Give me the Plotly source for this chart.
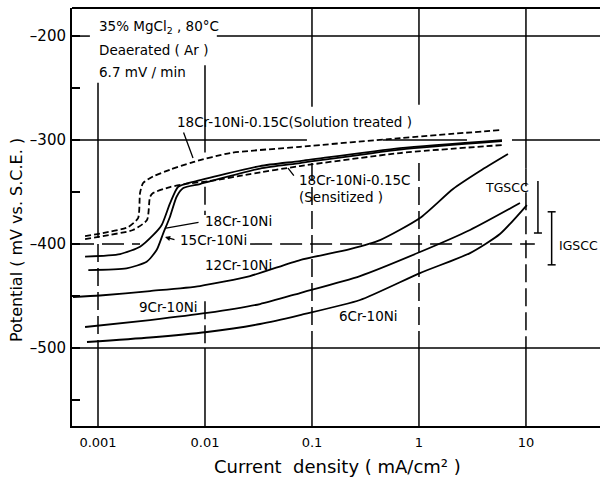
import plotly.graph_objects as go
import math

# ---------------- data (current density mA/cm^2, potential mV vs SCE) ----------------
sol_I = [0.000757, 0.00111, 0.00191, 0.00237, 0.00247, 0.00264, 0.00327, 0.00471, 0.00773, 0.01714, 0.0773, 0.664, 5.71]
sol_V = [-392.3, -389.4, -383.7, -375.0, -351.0, -341.3, -335.0, -328.5, -321.2, -312.5, -306.5, -298.1, -290.4]

sens_I = [0.000757, 0.00111, 0.00212, 0.00287, 0.00306, 0.00327, 0.00471, 0.0065, 0.01114, 0.02636, 0.0773, 0.664, 5.97]
sens_V = [-395.2, -392.3, -386.5, -376.9, -354.8, -351.0, -345.2, -342.3, -339.4, -332.7, -325.0, -312.5, -304.8]

cr18_I = [0.000757, 0.00161, 0.00247, 0.00329, 0.00394, 0.00471, 0.00562, 0.00778, 0.0327, 0.0773, 0.664, 5.97]
cr18_V = [-412.2, -409.6, -402.6, -391.3, -381.7, -360.9, -344.9, -340.1, -325.0, -320.2, -307.7, -300.0]

cr15_I = [0.000812, 0.00185, 0.00285, 0.00353, 0.00407, 0.00471, 0.00543, 0.00627, 0.00897, 0.0327, 0.0773, 0.664, 5.97]
cr15_V = [-425.0, -423.4, -417.0, -405.8, -389.7, -373.7, -354.5, -346.2, -342.3, -327.4, -322.1, -309.1, -301.0]

cr12_I = [0.000584, 0.001044, 0.00306, 0.00897, 0.02636, 0.0773, 0.2265, 0.4325, 1.021, 2.08, 3.715, 6.79]
cr12_V = [-451.0, -449.5, -445.2, -440.4, -430.8, -415.4, -404.8, -396.2, -375.0, -347.1, -329.8, -313.5]

cr9_I = [0.000757, 0.00306, 0.01045, 0.0327, 0.0773, 0.2812, 1.021, 3.0, 8.79]
cr9_V = [-479.8, -473.1, -466.3, -457.7, -447.1, -430.8, -407.7, -386.5, -360.6]

cr6_I = [0.000789, 0.00306, 0.01045, 0.0327, 0.0773, 0.2812, 1.021, 3.0, 5.71, 10.2]
cr6_V = [-494.2, -489.9, -484.6, -476.9, -468.3, -453.8, -427.9, -408.7, -390.4, -362.5]

tgscc_I = 12.94
tgscc_V = [-339.4, -389.4]
igscc_I = 17.38
igscc_V = [-369.0, -420.0]

x_tickvals = [0.001, 0.01, 0.1, 1, 10]
x_ticktext = ["0.001", "0.01", "0.1", "1", "10"]
y_tickvals = [-550, -500, -450, -400, -350, -300, -250, -200]
y_ticktext = ["", "\u2013500", "", "\u2013400", "", "\u2013300", "", "\u2013200"]

X_RANGE = [-3.243, 1.692]
Y_RANGE = [-575, -173]
XL, XR = 10 ** X_RANGE[0], 10 ** X_RANGE[1]
YB, YT = Y_RANGE

FONT = "DejaVu Sans"

fig = go.Figure()

# ---------------- grid segments (broken around labels like the original) ----------------
def add_segments(segs, dash, width=1.5):
    xs, ys = [], []
    for (x0, y0, x1, y1) in segs:
        xs += [x0, x1, None]
        ys += [y0, y1, None]
    fig.add_trace(go.Scatter(x=xs, y=ys, mode="lines", hoverinfo="skip", showlegend=False,
                             line=dict(color="black", width=width, dash=dash)))

v_solid_top = {0.001: [(-245, -377)], 0.01: [(-228, -312)], 0.1: [(YT, -268)],
               1: [(YT, -266)], 10: [(YT, -327)]}
v_dash_mid = {0.001: [(-377, -500)], 0.01: [(-345, -372), (-455, -500)], 0.1: [(-322, -500)],
              1: [(-322, -500)], 10: [(-327, -500)]}

solid_segs = []
dash_segs = []
for gx in x_tickvals:
    for a, b in v_solid_top[gx]:
        solid_segs.append((gx, a, gx, b))
    for a, b in v_dash_mid[gx]:
        dash_segs.append((gx, a, gx, b))
    solid_segs.append((gx, -500, gx, YB))

h_solid = {-200: [(XL, 0.00084), (0.0129, XR)],
           -300: [(XL, 0.0897), (0.461, 2.81), (7.4, XR)],
           -500: [(XL, XR)]}
for gy, spans in h_solid.items():
    for (x0, x1) in spans:
        solid_segs.append((x0, gy, x1, gy))

add_segments(solid_segs, "solid", 1.5)
add_segments(dash_segs, "18px,6px", 1.5)
add_segments([(XL, -400, 0.00247, -400), (0.0264, -400, 12.1, -400)], "22px,8px", 1.5)

# ---------------- curves ----------------
def curve(I, V, dash="solid"):
    fig.add_trace(go.Scatter(x=I, y=V, mode="lines", hoverinfo="skip", showlegend=False,
                             line=dict(color="black", width=1.8, dash=dash, shape="spline", smoothing=0.6)))

curve(sol_I, sol_V, "6px,3px")
curve(sens_I, sens_V, "6px,3px")
curve(cr18_I, cr18_V)
curve(cr15_I, cr15_V)
curve(cr12_I, cr12_V)
curve(cr9_I, cr9_V)
curve(cr6_I, cr6_V)

# ---------------- SCC range brackets ----------------
def bracket(xc, vr, top_tick, bottom_tick):
    lx = math.log10(xc)
    w = 4 / 107.0
    xs = [xc, xc, None]
    ys = [vr[0], vr[1], None]
    for v, show in ((vr[0], top_tick), (vr[1], bottom_tick)):
        if show:
            xs += [10 ** (lx - w), 10 ** (lx + w), None]
            ys += [v, v, None]
    fig.add_trace(go.Scatter(x=xs, y=ys, mode="lines", hoverinfo="skip", showlegend=False,
                             line=dict(color="black", width=1.5)))

bracket(tgscc_I, [tgscc_V[1], tgscc_V[0]], True, False)
bracket(igscc_I, igscc_V, True, True)

# ---------------- annotations ----------------
def label(text, lx, v, anchor="left", size=13.5):
    fig.add_annotation(x=lx, y=v, xref="x", yref="y", text=text, showarrow=False,
                       xanchor=anchor, yanchor="middle", font=dict(family=FONT, size=size, color="black"))

label("35% MgCl<sub>2</sub> , 80°C", -3.009, -191.3, size=13.5)
label("Deaerated ( Ar )", -3.009, -213.5, size=13.5)
label("6.7 mV / min", -3.009, -234.6, size=13.5)
label("18Cr-10Ni-0.15C(Solution treated )", -2.28, -282.7, size=13.5)
label("18Cr-10Ni-0.15C", -1.14, -338.5)
label("(Sensitized )", -1.14, -354.8)
label("18Cr-10Ni", -2.019, -377.9)
label("15Cr-10Ni", -2.252, -396.2)
label("12Cr-10Ni", -2.019, -420.2)
label("9Cr-10Ni", -2.636, -460.6)
label("6Cr-10Ni", -0.766, -469.2)
label("TGSCC", 0.822, -345.2, anchor="center", size=12.5)
label("IGSCC", 1.29, -401.0, size=12.5)

def leader(lx, v, ax, ay, head=0):
    fig.add_annotation(x=lx, y=v, xref="x", yref="y", text="", showarrow=True,
                       ax=ax, ay=ay, arrowhead=head, arrowsize=0.8, arrowwidth=1.3, arrowcolor="black",
                       standoff=0, startstandoff=0)

leader(-2.112, -317.3, -10, -27)
leader(-1.224, -326.9, 7, 9)
leader(-2.364, -384.6, 34, -6)
leader(-2.374, -393.3, 11, 3, head=2)

# axis titles (paper coords: plot area spans x 72..600, y 8..426)
PW, PH = 528.0, 418.0
fig.add_annotation(x=(16 - 72) / PW, y=(426 - 240) / PH, xref="paper", yref="paper",
                   text="Potential ( mV vs. S.C.E. )", showarrow=False, textangle=-90,
                   xanchor="center", yanchor="middle", font=dict(family=FONT, size=16, color="black"))
fig.add_annotation(x=(337 - 72) / PW, y=-(466 - 426) / PH, xref="paper", yref="paper",
                   text="Current  density ( mA/cm² )", showarrow=False,
                   xanchor="center", yanchor="middle", font=dict(family=FONT, size=18, color="black"))

# top frame line
fig.add_shape(type="line", xref="paper", yref="paper", x0=0, x1=1, y0=1, y1=1,
              line=dict(color="black", width=2))

fig.update_layout(
    width=600, height=479,
    margin=dict(l=72, r=0, t=8, b=53),
    paper_bgcolor="white", plot_bgcolor="white",
    showlegend=False,
    xaxis=dict(type="log", range=X_RANGE, showgrid=False, zeroline=False,
               showline=True, linecolor="black", linewidth=2, ticks="",
               tickvals=x_tickvals, ticktext=x_ticktext, ticklabelstandoff=3,
               tickfont=dict(family=FONT, size=13, color="black")),
    yaxis=dict(range=Y_RANGE, showgrid=False, zeroline=False,
               showline=True, linecolor="black", linewidth=2,
               ticks="inside", ticklen=8, tickwidth=1.5, tickcolor="black",
               tickvals=y_tickvals, ticktext=y_ticktext, ticklabelstandoff=1,
               tickfont=dict(family=FONT, size=15, color="black")),
)

fig.write_html("out.html",
               config={"displayModeBar": False},
               post_script="document.body.style.margin='0';document.body.style.overflow='hidden';")
